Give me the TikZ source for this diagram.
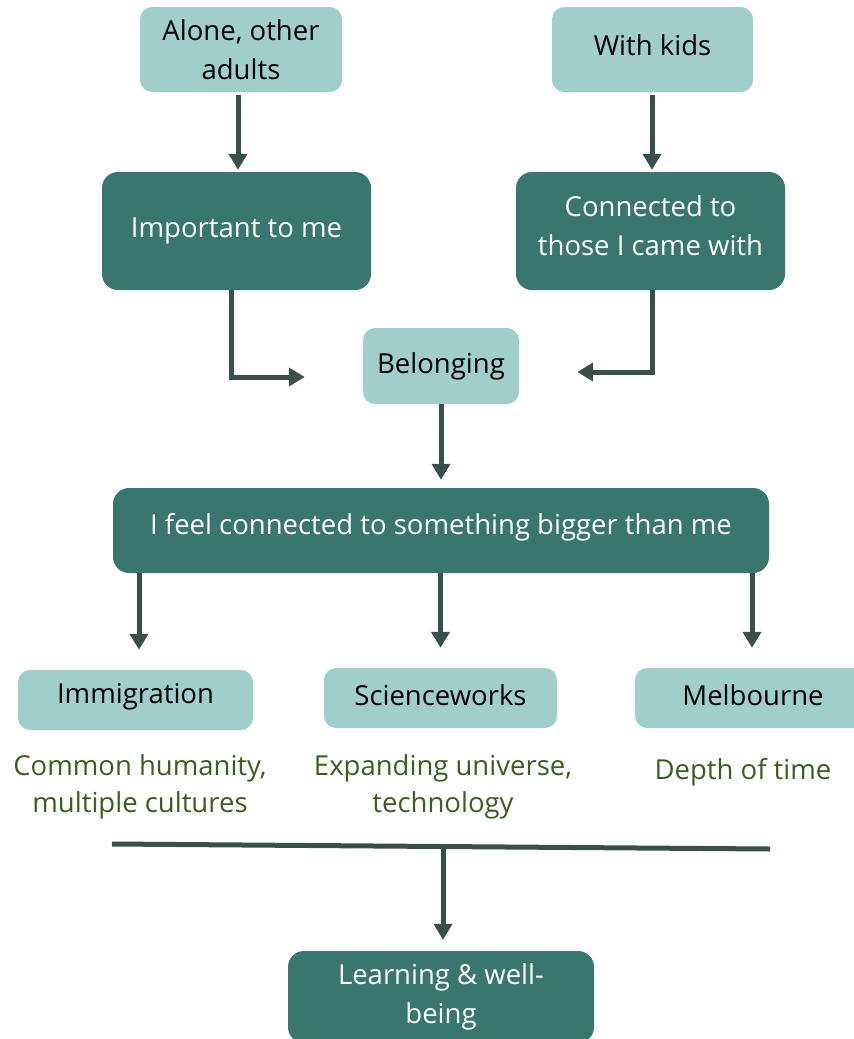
\documentclass[tikz,border=0pt]{standalone}
\usepackage{fontspec}
\setmainfont{Open Sans}
\usetikzlibrary{arrows.meta,calc}
\definecolor{lightteal}{HTML}{A0CFCB}
\definecolor{darkteal}{HTML}{38766F}
\definecolor{arrowcol}{HTML}{3A4E4B}
\definecolor{greentext}{HTML}{3B5E1E}
\begin{document}
\begin{tikzpicture}[x=1pt,y=-1pt,
  txt/.style={font=\fontsize{27.5}{39}\selectfont},
  lightbox/.style={txt, fill=lightteal, rounded corners=12pt, text=black, align=center, inner sep=0pt},
  darkbox/.style={txt, fill=darkteal, rounded corners=16pt, text=white, align=center, inner sep=0pt},
  note/.style={font=\fontsize{27.5}{37}\selectfont, text=greentext, align=center, inner sep=0pt},
  arr/.style={draw=arrowcol, line width=5pt, -{Triangle[width=18pt,length=16pt]}},
  bar/.style={draw=arrowcol, line width=5pt},
]
\useasboundingbox (0,0) rectangle (854,1039);
\node[lightbox, minimum width=202pt, minimum height=85pt] (alone) at (241,49.5) {Alone, other\\adults};
\node[lightbox, minimum width=201pt, minimum height=85pt, text depth=8pt] (kids) at (652.5,49.5) {With kids};
\node[darkbox, minimum width=269pt, minimum height=118pt] (important) at (236.5,231) {Important to me};
\node[darkbox, minimum width=269pt, minimum height=118pt, text depth=10pt] (connected) at (650.5,231) {Connected to\\those I came with};
\node[lightbox, minimum width=156pt, minimum height=76pt] (belonging) at (441,366) {Belonging};
\node[darkbox, minimum width=656pt, minimum height=85pt, text depth=14pt] (big) at (441,530.5) {I feel connected to something bigger than me};
\node[lightbox, minimum width=235pt, minimum height=60pt, text depth=12.5pt] (immig) at (135.5,700) {Immigration};
\node[lightbox, minimum width=233pt, minimum height=60pt, text depth=6pt] (science) at (440.5,698) {Scienceworks};
\node[lightbox, minimum width=236pt, minimum height=60pt, text depth=6pt] (melb) at (753,698) {Melbourne};
\node[note] (n1) at (140,787) {Common humanity,\\multiple cultures};
\node[note] (n2) at (443,787) {Expanding universe,\\technology};
\node[note] (n3) at (743,772) {Depth of time};
\node[darkbox, minimum width=306pt, minimum height=92pt] (learning) at (441,997) {Learning \& well-\\being};
\coordinate (hl) at (112,844);
\coordinate (hr) at (770,849);
\coordinate (hm) at (443,846.5);
% arrows
\draw[arr] ([xshift=-3pt,yshift=-3pt]alone.south) -- ([xshift=-3pt,yshift=2pt]alone.south |- important.north);
\draw[arr] ([xshift=-0.5pt,yshift=-3pt]kids.south) -- ([xshift=-0.5pt,yshift=2pt]kids.south |- connected.north);
\draw[arr] ([xshift=-5.5pt]important.south) |- ([xshift=-58pt,yshift=-11pt]belonging.west);
\draw[arr] ([xshift=1.5pt]connected.south) |- ([xshift=58pt,yshift=-6pt]belonging.east);
\draw[arr] (belonging.south) -- ([yshift=8pt]belonging.south |- big.north);
\draw[arr] (big.south -| 139,0) -- ([yshift=20pt]immig.north -| 139,0);
\draw[arr] (big.south -| science.north) -- ([yshift=20pt]science.north);
\draw[arr] (big.south -| 752,0) -- ([yshift=20pt]melb.north -| 752,0);
\draw[bar] (hl) -- (hr);
\draw[arr] (hm) -- ([yshift=11pt]hm |- learning.north);
\end{tikzpicture}
\end{document}
